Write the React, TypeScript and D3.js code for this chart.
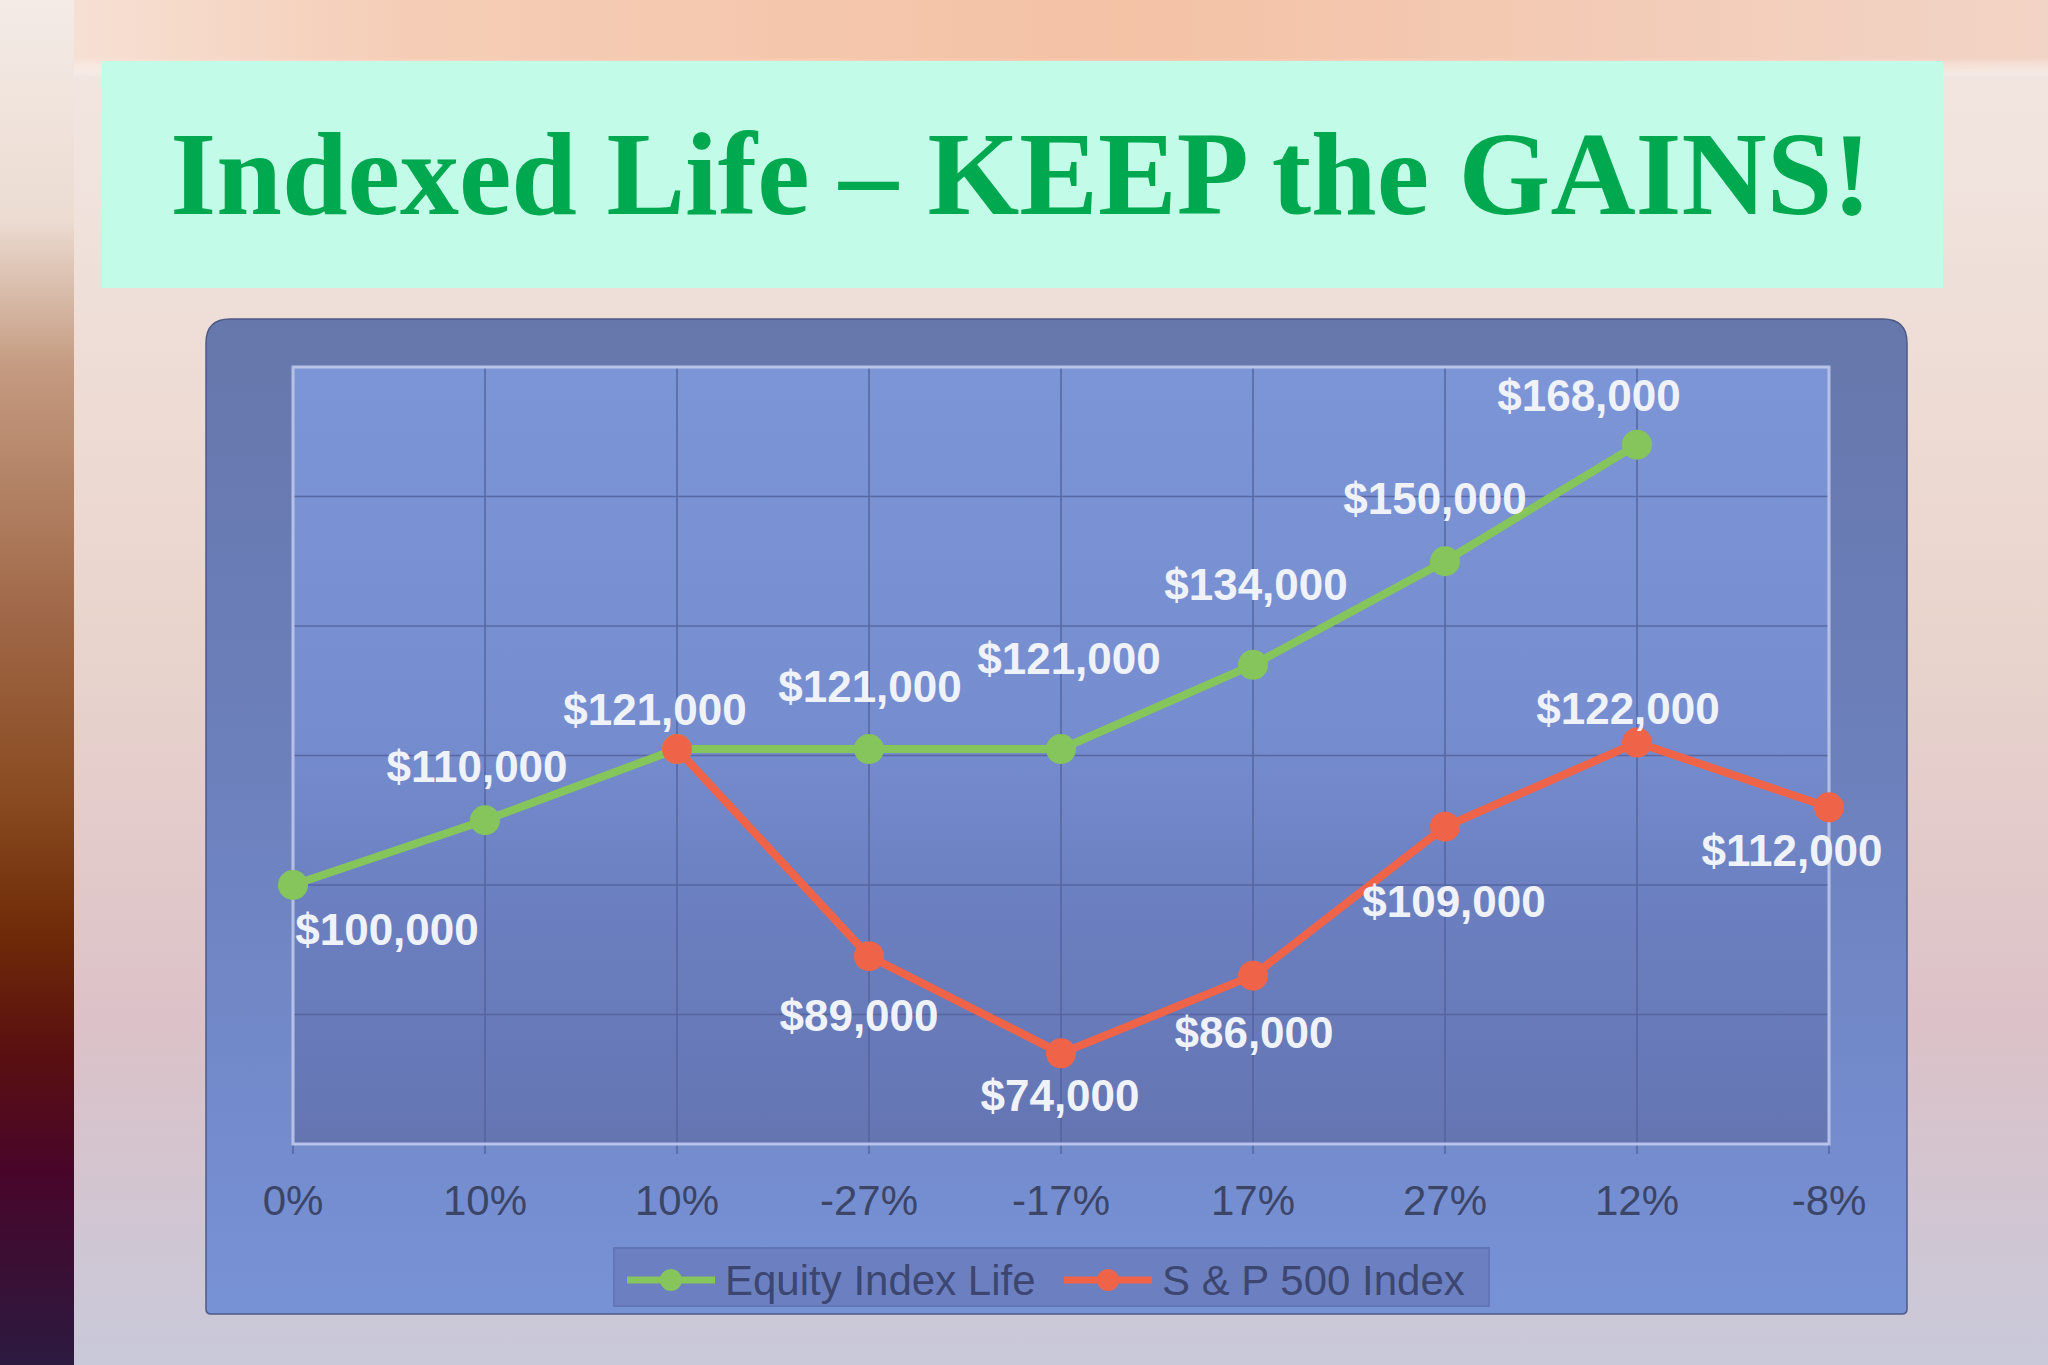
import React from "react";
import * as d3 from "d3";

// x categories are the yearly index returns printed under the chart
const periods = ["0%", "10%", "10%", "-27%", "-17%", "17%", "27%", "12%", "-8%"];
const equityIndexLife: (number | null)[] = [100000, 110000, 121000, 121000, 121000, 134000, 150000, 168000, null];
const sp500Index: (number | null)[] = [null, null, 121000, 89000, 74000, 86000, 109000, 122000, 112000];
const yTicks = [60000, 80000, 100000, 120000, 140000, 160000, 180000];
const seriesNames = ["Equity Index Life", "S & P 500 Index"];

// hand placed label offsets (px from the point), like the original slide
const equityNudge: ([number, number] | null)[] = [
  [94, 44], [-8, -54], [-22, -40], [1, -63], [8, -91], [3, -81], [-10, -63], [-48, -50], null,
];
const spNudge: ([number, number] | null)[] = [
  null, null, null, [-10, 59], [-1, 42], [1, 57], [9, 74], [-9, -34], [-37, 43],
];

const W = 2048;
const H = 1365;
const plot = { left: 293, right: 1829, top: 367, bottom: 1144 };
const panel = { left: 206, right: 1907, top: 319, bottom: 1314 };

const GREEN = "#86c45c";
const RED = "#ef6448";

const fmt = d3.format("$,");

function panelPath() {
  const { left, right, top, bottom } = panel;
  const r = 24;
  const rb = 5;
  const p = d3.path();
  p.moveTo(left + r, top);
  p.lineTo(right - r, top);
  p.quadraticCurveTo(right, top, right, top + r);
  p.lineTo(right, bottom - rb);
  p.quadraticCurveTo(right, bottom, right - rb, bottom);
  p.lineTo(left + rb, bottom);
  p.quadraticCurveTo(left, bottom, left, bottom - rb);
  p.lineTo(left, top + r);
  p.quadraticCurveTo(left, top, left + r, top);
  p.closePath();
  return p.toString();
}

export default function App() {
  const x = d3
    .scalePoint<number>()
    .domain(d3.range(periods.length))
    .range([plot.left, plot.right]);
  const y = d3
    .scaleLinear()
    .domain([60000, 180000])
    .range([plot.bottom, plot.top]);

  const line = d3
    .line<number | null>()
    .defined((d) => d != null)
    .x((_, i) => x(i)!)
    .y((d) => y(d as number));

  const series = [
    { name: seriesNames[0], values: equityIndexLife, color: GREEN, nudge: equityNudge },
    { name: seriesNames[1], values: sp500Index, color: RED, nudge: spNudge },
  ];

  const labelFont = "'Liberation Sans', Arial, sans-serif";

  return (
    <svg
      width={W}
      height={H}
      style={{ position: "absolute", left: 0, top: 0, display: "block" }}
    >
      <defs>
        <linearGradient id="strip" x1="0" y1="0" x2="0" y2="1">
          <stop offset="0" stopColor="#f4ebe6" />
          <stop offset="0.16" stopColor="#ecdcd2" />
          <stop offset="0.27" stopColor="#c49a80" />
          <stop offset="0.45" stopColor="#a06848" />
          <stop offset="0.58" stopColor="#8a4c22" />
          <stop offset="0.68" stopColor="#702c08" />
          <stop offset="0.77" stopColor="#5a1010" />
          <stop offset="0.86" stopColor="#48052a" />
          <stop offset="1" stopColor="#2c1a40" />
        </linearGradient>
        <linearGradient id="topband" x1="0" y1="0" x2="1" y2="0">
          <stop offset="0" stopColor="#f6e4da" />
          <stop offset="0.2" stopColor="#f5cdb6" />
          <stop offset="0.55" stopColor="#f4c2a5" />
          <stop offset="1" stopColor="#f2d4c6" />
        </linearGradient>
        <linearGradient id="topfade" x1="0" y1="0" x2="0" y2="1">
          <stop offset="0" stopColor="#fff" stopOpacity={0} />
          <stop offset="1" stopColor="#f3e8e3" stopOpacity={1} />
        </linearGradient>
        <linearGradient id="slide" x1="0" y1="0" x2="0" y2="1">
          <stop offset="0" stopColor="#f3e8e3" />
          <stop offset="0.45" stopColor="#ead5cd" />
          <stop offset="0.75" stopColor="#dcc2c8" />
          <stop offset="1" stopColor="#c9c9da" />
        </linearGradient>
        <linearGradient id="panelFill" x1="0" y1="0" x2="0" y2="1">
          <stop offset="0" stopColor="#6677ab" />
          <stop offset="0.45" stopColor="#6c80bc" />
          <stop offset="1" stopColor="#7892d6" />
        </linearGradient>
        <linearGradient id="plotFill" x1="0" y1="0" x2="0" y2="1">
          <stop offset="0" stopColor="#7c95d7" />
          <stop offset="0.45" stopColor="#768ed0" />
          <stop offset="0.7" stopColor="#6b7fc0" />
          <stop offset="1" stopColor="#6475b2" />
        </linearGradient>
      </defs>

      {/* background: photographed slide */}
      <rect x={0} y={0} width={W} height={H} fill="url(#slide)" />
      <rect x={0} y={0} width={W} height={74} fill="url(#topband)" />
      <rect x={74} y={58} width={W - 74} height={18} fill="url(#topfade)" />
      <rect x={0} y={0} width={74} height={H} fill="url(#strip)" />

      {/* title */}
      <rect x={102} y={61} width={1841} height={227} fill="#c3fbe9" />
      <text
        x={1021}
        y={214}
        textAnchor="middle"
        fontFamily="'Liberation Serif', 'Times New Roman', serif"
        fontWeight="bold"
        fontSize={118}
        fill="#00a84f"
      >
        Indexed Life – KEEP the GAINS!
      </text>

      {/* chart panel */}
      <path d={panelPath()} fill="url(#panelFill)" stroke="#4d5a86" strokeWidth={1.5} />
      <rect
        x={plot.left}
        y={plot.top}
        width={plot.right - plot.left}
        height={plot.bottom - plot.top}
        fill="url(#plotFill)"
      />

      {/* grid */}
      <g stroke="#53629c" strokeWidth={1.6} opacity={0.85}>
        {yTicks.slice(1, -1).map((t) => (
          <line key={t} x1={plot.left} x2={plot.right} y1={y(t)} y2={y(t)} />
        ))}
        {periods.map((_, i) => (
          <line key={i} x1={x(i)} x2={x(i)} y1={plot.top} y2={plot.bottom + 10} />
        ))}
      </g>
      <rect
        x={plot.left}
        y={plot.top}
        width={plot.right - plot.left}
        height={plot.bottom - plot.top}
        fill="none"
        stroke="#c6cff0"
        strokeWidth={3}
        opacity={0.85}
      />

      {/* x labels */}
      {periods.map((p, i) => (
        <text
          key={i}
          x={x(i)}
          y={1215}
          textAnchor="middle"
          fontFamily={labelFont}
          fontSize={42}
          fill="#3b4567"
        >
          {p}
        </text>
      ))}

      {/* series */}
      {series.map((s) => (
        <g key={s.name}>
          <path d={line(s.values) ?? ""} fill="none" stroke={s.color} strokeWidth={8} strokeLinejoin="round" />
          {s.values.map((v, i) =>
            v == null ? null : <circle key={i} cx={x(i)} cy={y(v)} r={15} fill={s.color} />
          )}
        </g>
      ))}

      {/* value labels */}
      {series.map((s) =>
        s.values.map((v, i) => {
          const n = s.nudge[i];
          if (v == null || !n) return null;
          return (
            <text
              key={s.name + i}
              x={x(i)! + n[0]}
              y={y(v) + n[1]}
              dy="0.36em"
              textAnchor="middle"
              fontFamily={labelFont}
              fontWeight="bold"
              fontSize={44}
              fill="#f0f2fa"
            >
              {fmt(v)}
            </text>
          );
        })
      )}

      {/* legend */}
      <rect x={614} y={1248} width={875} height={58} fill="#6c80c1" stroke="#6275b4" strokeWidth={2} />
      {series.map((s, k) => {
        const lx = k === 0 ? 627 : 1064;
        return (
          <g key={s.name}>
            <line x1={lx} x2={lx + 88} y1={1280} y2={1280} stroke={s.color} strokeWidth={7} />
            <circle cx={lx + 44} cy={1280} r={11} fill={s.color} />
            <text
              x={lx + 98}
              y={1280}
              dy="0.36em"
              fontFamily={labelFont}
              fontSize={42}
              fill="#3c4670"
            >
              {s.name}
            </text>
          </g>
        );
      })}
    </svg>
  );
}
